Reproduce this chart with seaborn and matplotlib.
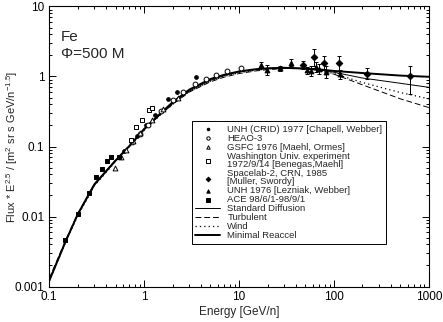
import numpy as np
import pandas as pd
import matplotlib
matplotlib.use("Agg")
import matplotlib.pyplot as plt
import seaborn as sns
from matplotlib.ticker import LogLocator, FuncFormatter, NullFormatter

# ---------------- data ----------------
energy_model = [0.1, 0.15, 0.2, 0.3, 0.5, 0.7, 1, 1.5, 2, 3, 5, 7, 10, 15, 20, 30, 50, 70, 100, 200, 500, 1000]
std_diff = [0.00125, 0.0045, 0.0105, 0.028, 0.062, 0.1, 0.172, 0.29, 0.41, 0.62, 0.88, 1.03, 1.16, 1.26, 1.3, 1.32, 1.3, 1.24, 1.15, 0.95, 0.8, 0.7]
turbulent = [0.0013, 0.0047, 0.011, 0.029, 0.064, 0.102, 0.175, 0.29, 0.4, 0.6, 0.84, 0.98, 1.1, 1.2, 1.25, 1.3, 1.29, 1.21, 1.08, 0.76, 0.48, 0.36]
wind = [0.0012, 0.0044, 0.0103, 0.0275, 0.061, 0.099, 0.17, 0.285, 0.4, 0.61, 0.86, 1.0, 1.13, 1.23, 1.28, 1.31, 1.29, 1.23, 1.1, 0.82, 0.59, 0.48]
min_reacc = [0.0012, 0.0045, 0.0108, 0.029, 0.063, 0.102, 0.178, 0.3, 0.43, 0.65, 0.92, 1.06, 1.18, 1.27, 1.31, 1.33, 1.3, 1.26, 1.2, 1.12, 1.03, 0.99]

unh_crid_e = [0.62, 0.85, 1.05, 1.3, 1.77, 2.2, 3.55]
unh_crid_f = [0.085, 0.14, 0.2, 0.28, 0.48, 0.6, 0.98]

heao_e = [0.75, 0.9, 1.1, 1.5, 2.0, 2.6, 3.4, 4.5, 5.7, 7.5, 10.4]
heao_f = [0.115, 0.15, 0.2, 0.32, 0.46, 0.6, 0.77, 0.92, 1.06, 1.2, 1.3]

gsfc_e = [0.49, 0.57, 0.65, 0.76, 0.9, 1.2, 1.6, 2.3]
gsfc_f = [0.05, 0.071, 0.09, 0.12, 0.155, 0.24, 0.34, 0.5]

wash_e = [0.73, 0.82, 0.96, 1.13, 1.22]
wash_f = [0.125, 0.19, 0.24, 0.33, 0.36]

spacelab_e = [47.5, 61, 79, 113, 221, 640]
spacelab_f = [1.47, 1.87, 1.58, 1.55, 1.08, 1.0]
spacelab_lo = [0.2, 0.45, 0.3, 0.42, 0.16, 0.44]
spacelab_hi = [0.2, 0.6, 0.35, 0.42, 0.25, 0.43]

unh76_e = [16.9, 19.7, 27, 34.9, 52, 57.5, 65, 69, 81.7, 117]
unh76_f = [1.47, 1.25, 1.3, 1.58, 1.23, 1.2, 1.35, 1.29, 1.16, 1.08]
unh76_lo = [0.15, 0.2, 0.12, 0.15, 0.15, 0.2, 0.2, 0.2, 0.2, 0.15]
unh76_hi = [0.15, 0.2, 0.12, 0.2, 0.15, 0.2, 0.25, 0.2, 0.25, 0.15]

ace_e = [0.147, 0.2, 0.26, 0.31, 0.36, 0.41, 0.45, 0.54]
ace_f = [0.0046, 0.011, 0.022, 0.037, 0.048, 0.062, 0.072, 0.071]

x_ticks = [0.1, 1, 10, 100, 1000]
y_ticks = [0.001, 0.01, 0.1, 1, 10]

# ---------------- style ----------------
sns.set_style("ticks")
plt.rcParams['font.family'] = ['Liberation Sans', 'DejaVu Sans']
plt.rcParams['mathtext.fontset'] = 'custom'
plt.rcParams['mathtext.rm'] = 'Liberation Sans'
plt.rcParams['mathtext.it'] = 'Liberation Sans'

fig = plt.figure(figsize=(4.43, 3.22), dpi=100)
ax = fig.add_axes([0.111, 0.110, 0.857, 0.870])

ax.set_xscale('log')
ax.set_yscale('log')

# model curves
models = [
    ("Standard Diffusion", std_diff, '-', 0.7),
    ("Turbulent", turbulent, (0, (6, 3)), 0.7),
    ("Wind", wind, (0, (1, 2.5)), 0.9),
    ("Minimal Reaccel", min_reacc, '-', 1.4),
]
for name, vals, ls, lw in models:
    df = pd.DataFrame({"E": energy_model, "F": vals})
    sns.lineplot(data=df, x="E", y="F", ax=ax, color='black', linestyle=ls,
                 linewidth=lw, label=name, zorder=2)

# data points
def pts(e, f, marker, fill, size, label):
    df = pd.DataFrame({"E": e, "F": f})
    sns.scatterplot(data=df, x="E", y="F", ax=ax, marker=marker, color=fill,
                    edgecolor='black', linewidth=0.7, s=size, label=label, zorder=3)

pts(unh_crid_e, unh_crid_f, 'o', 'black', 7, "UNH (CRID) 1977 [Chapell, Webber]")
pts(heao_e, heao_f, 'o', 'white', 12, "HEAO-3")
pts(gsfc_e, gsfc_f, '^', 'white', 12, "GSFC 1976 [Maehl, Ormes]")
pts(wash_e, wash_f, 's', 'white', 12, "Washington Univ. experiment\n1972/9/14 [Benegas,Maehl]")

ax.errorbar(spacelab_e, spacelab_f, yerr=[spacelab_lo, spacelab_hi], fmt='none',
            ecolor='black', elinewidth=0.7, capsize=1.5, capthick=0.7, zorder=3)
pts(spacelab_e, spacelab_f, 'D', 'black', 11, "Spacelab-2, CRN, 1985\n[Muller, Swordy]")
ax.errorbar(unh76_e, unh76_f, yerr=[unh76_lo, unh76_hi], fmt='none',
            ecolor='black', elinewidth=0.7, capsize=1.5, capthick=0.7, zorder=3)
pts(unh76_e, unh76_f, '^', 'black', 12, "UNH 1976 [Lezniak, Webber]")
pts(ace_e, ace_f, 's', 'black', 12, "ACE 98/6/1-98/9/1")

fmt = FuncFormatter(lambda v, p: ('%g' % v))
ax.set_xticks(x_ticks)
ax.set_yticks(y_ticks)
ax.xaxis.set_minor_locator(LogLocator(base=10, subs=np.arange(2, 10), numticks=20))
ax.yaxis.set_minor_locator(LogLocator(base=10, subs=np.arange(2, 10), numticks=20))
ax.xaxis.set_major_formatter(fmt)
ax.yaxis.set_major_formatter(fmt)
ax.xaxis.set_minor_formatter(NullFormatter())
ax.yaxis.set_minor_formatter(NullFormatter())
ax.set_xlim(0.1, 1000)
ax.set_ylim(0.001, 10)

ax.tick_params(which='both', direction='in', top=True, right=True, colors='black',
               labelsize=8.5, width=0.7)
ax.tick_params(which='major', length=5)
ax.tick_params(which='minor', length=2.5)
for s in ax.spines.values():
    s.set_color('black')
    s.set_linewidth(0.8)

ax.set_xlabel("Energy [GeV/n]", fontsize=8.5, labelpad=2)
ax.set_ylabel(r"Flux * E$^{2.5}$ / [m$^{2}$ sr s GeV/n$^{-1.5}$]", fontsize=8)
ax.yaxis.set_label_coords(-0.076, 0.5)

ax.text(0.03, 0.89, "Fe", transform=ax.transAxes, fontsize=11, va='center')
ax.text(0.03, 0.83, "Φ=500 M", transform=ax.transAxes, fontsize=11, va='center')

# legend ordering: points then lines
handles, labels = ax.get_legend_handles_labels()
order_names = ["UNH (CRID) 1977 [Chapell, Webber]", "HEAO-3", "GSFC 1976 [Maehl, Ormes]",
               "Washington Univ. experiment\n1972/9/14 [Benegas,Maehl]",
               "Spacelab-2, CRN, 1985\n[Muller, Swordy]", "UNH 1976 [Lezniak, Webber]",
               "ACE 98/6/1-98/9/1", "Standard Diffusion", "Turbulent", "Wind", "Minimal Reaccel"]
hmap = dict(zip(labels, handles))
leg = ax.legend([hmap[n] for n in order_names], order_names, loc='upper left',
                bbox_to_anchor=(0.376, 0.59), fontsize=6.8, frameon=True, fancybox=False,
                edgecolor='black', framealpha=1, handlelength=2.6, handletextpad=0.8,
                labelspacing=0.0, borderpad=0.35, borderaxespad=0, markerscale=0.7)
for t in leg.get_texts():
    t.set_linespacing(0.92)
leg.get_frame().set_linewidth(0.7)

fig.savefig("out.png", dpi=100)
